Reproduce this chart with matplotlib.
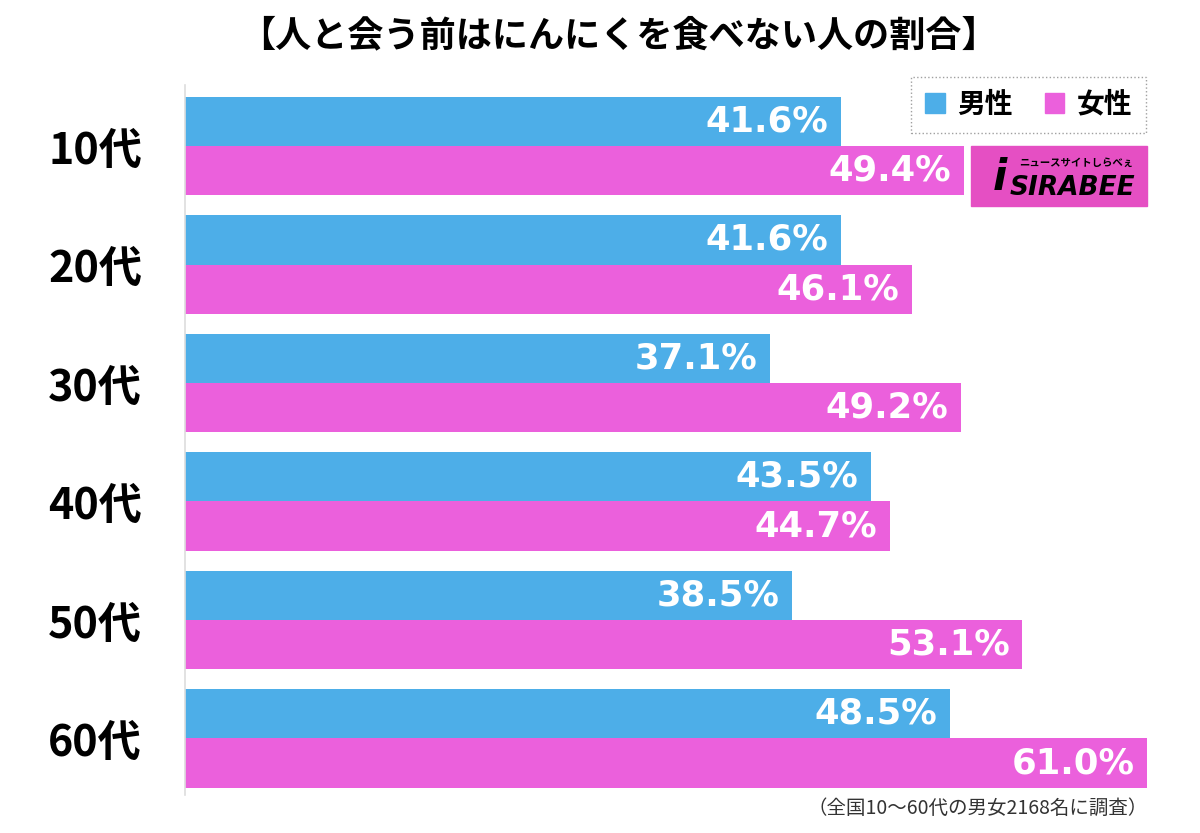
import matplotlib
matplotlib.use("Agg")
import matplotlib.pyplot as plt
from matplotlib.patches import Rectangle, Patch
import numpy as np

plt.rcParams['font.family'] = ['Noto Sans CJK JP', 'DejaVu Sans']

categories = ["10代", "20代", "30代", "40代", "50代", "60代"]
male = [41.6, 41.6, 37.1, 43.5, 38.5, 48.5]
female = [49.4, 46.1, 49.2, 44.7, 53.1, 61.0]
series_names = ["男性", "女性"]
title = "【人と会う前はにんにくを食べない人の割合】"
footnote = "（全国10〜60代の男女2168名に調査）"

BLUE = "#4DAEE8"
PINK = "#EB60DC"

W, H = 1200, 833
fig = plt.figure(figsize=(W / 100, H / 100), dpi=100)

def fx(px):
    return px / W

def fy(py):
    return 1 - py / H

ax = fig.add_axes([fx(185), fy(795), 977.7 / W, 710 / H])
y = np.arange(len(categories))
bh = 0.417
ax.barh(y - bh / 2, male, height=bh, color=BLUE)
ax.barh(y + bh / 2, female, height=bh, color=PINK)
ax.set_xlim(0, 62)
ax.set_ylim(5.477, -0.515)

lab_kw = dict(textcoords="offset points", ha="right", va="center", color="white",
              fontsize=25.5, fontweight="bold", family="DejaVu Sans")
for i, (m, f) in enumerate(zip(male, female)):
    ax.annotate(f"{m:.1f}%", (m, i - bh / 2), xytext=(-9, 0), **lab_kw)
    ax.annotate(f"{f:.1f}%", (f, i + bh / 2), xytext=(-9, 0), **lab_kw)

ax.set_yticks(y)
ax.set_yticklabels(categories, fontsize=31, fontweight="bold")
ax.tick_params(axis="y", length=0, pad=31)
ax.set_xticks([])
for s in ["top", "right", "bottom"]:
    ax.spines[s].set_visible(False)
ax.spines["left"].set_color("#dddddd")
ax.spines["left"].set_linewidth(1.2)

# title
fig.text(fx(618), fy(36), title, ha="center", va="center", fontsize=26, fontweight="bold")

# legend
handles = [Patch(color=BLUE), Patch(color=PINK)]
leg = fig.legend(handles, series_names, loc="upper right", bbox_to_anchor=(fx(1146), fy(77)),
                 ncol=2, prop={"weight": "bold", "size": 20}, borderaxespad=0,
                 handlelength=0.7, handleheight=0.7, handletextpad=0.45, columnspacing=1.15,
                 fancybox=False, borderpad=0.5, frameon=True)
fr = leg.get_frame()
fr.set_linestyle(":")
fr.set_edgecolor("#888888")
fr.set_linewidth(1.0)

# logo
fig.patches.append(Rectangle((fx(971), fy(206)), (1147 - 971) / W, 60 / H,
                             transform=fig.transFigure, color="#E54FC3", zorder=5))
fig.text(fx(1000), fy(178), "i", ha="center", va="center", fontsize=30, fontweight="bold",
         style="italic", color="black", zorder=6, family="DejaVu Sans")
fig.text(fx(1072), fy(188), "SIRABEE", ha="center", va="center", fontsize=19, fontweight="bold",
         style="italic", color="black", zorder=6, family="DejaVu Sans")
fig.text(fx(1076), fy(163), "ニュースサイトしらべぇ", ha="center", va="center", fontsize=7.5,
         fontweight="bold", color="black", zorder=6)

# footnote
fig.text(fx(1148), fy(808), footnote, ha="right", va="center", fontsize=14, color="#333333")

fig.savefig("out.png", dpi=100, facecolor="white")
